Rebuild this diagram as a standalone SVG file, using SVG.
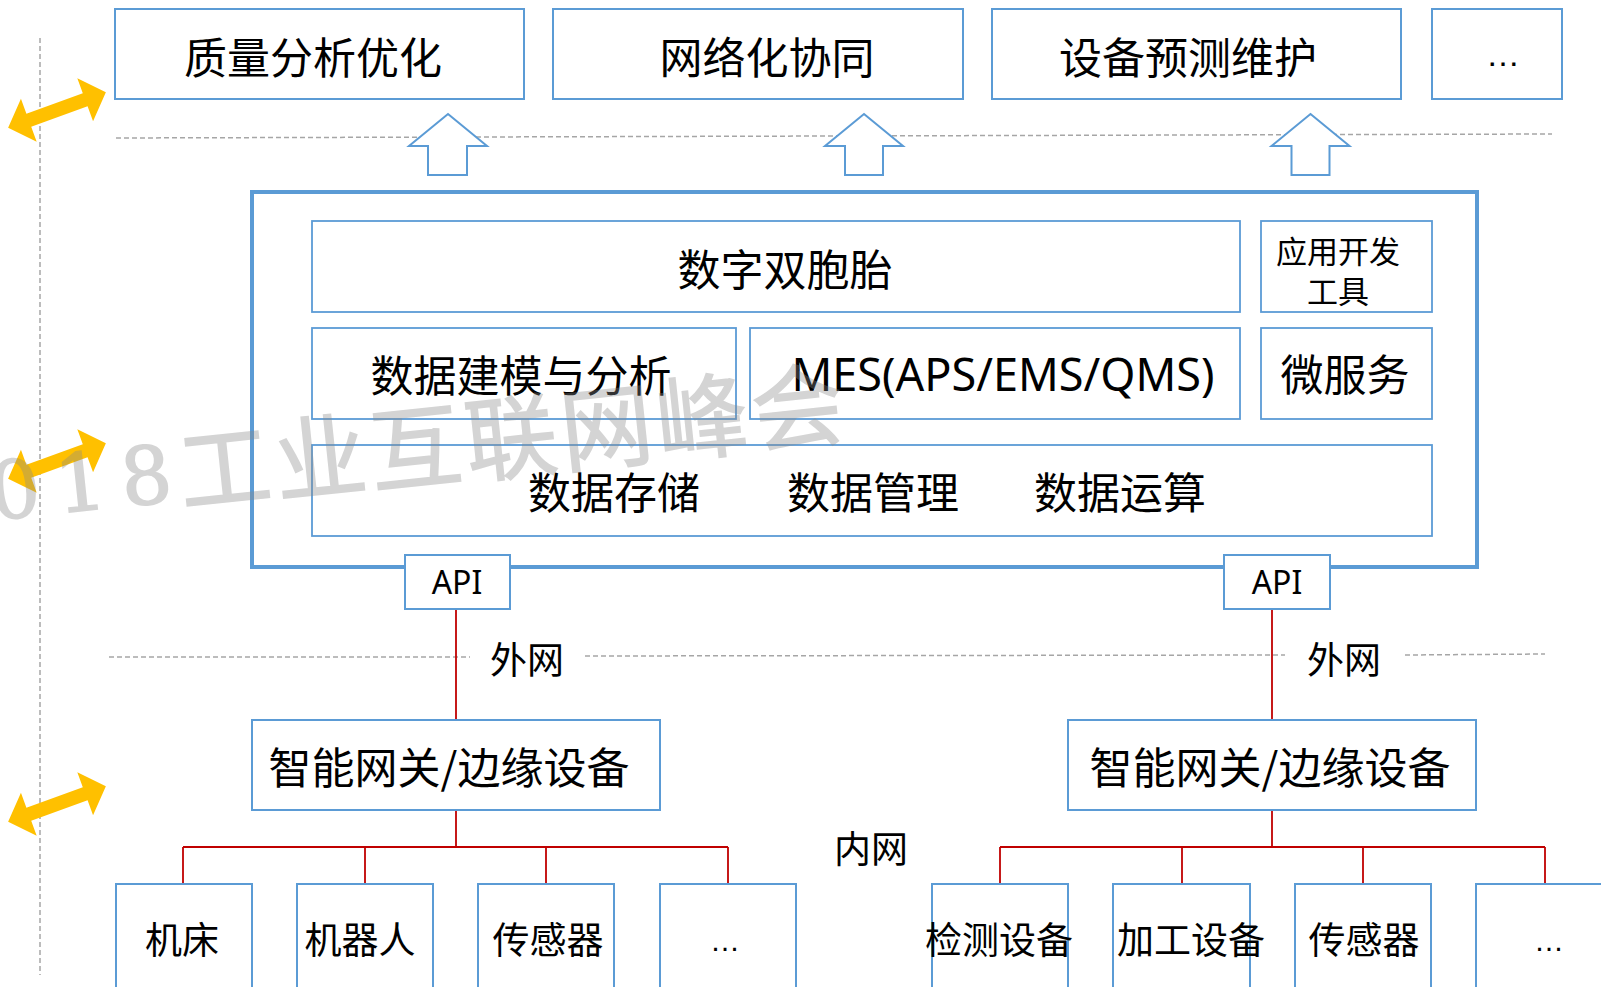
<svg xmlns="http://www.w3.org/2000/svg" width="1601" height="987" viewBox="0 0 1601 987">
<style>
.box{fill:#fff;stroke:#5B9BD5;stroke-width:2}
.ibox{fill:#fff;stroke:#5B9BD5;stroke-width:1.8}
.cont{fill:#fff;stroke:#5B9BD5;stroke-width:4}
.dash{fill:none;stroke:#A6A6A6;stroke-width:1.5;stroke-dasharray:5 3}
.red{fill:none;stroke:#C00000;stroke-width:1.8}
.t{font-family:"Noto Sans CJK SC","Noto Sans",sans-serif;fill:#000;text-anchor:middle;dominant-baseline:central}
.l{font-family:"Noto Sans","Noto Sans CJK SC",sans-serif;fill:#000;text-anchor:middle;dominant-baseline:central}
.e{font-family:"Liberation Sans",sans-serif;fill:#000;text-anchor:middle}
.yarrow{fill:#FFC000}
.barrow{fill:#fff;stroke:#5B9BD5;stroke-width:2}
.wm{fill:#8a8a8a;stroke:#8a8a8a;stroke-width:1.5;opacity:0.36;text-anchor:middle}
</style>
<defs>
<polygon id="dbl" points="52,0 30,-23 30,-7 -30,-7 -30,-23 -52,0 -30,23 -30,7 30,7 30,23"/>
</defs>
<rect width="1601" height="987" fill="#fff"/>

<g id="guides">
<line class="dash" x1="40" y1="38" x2="40" y2="975"/>
<line class="dash" x1="116" y1="138" x2="1552" y2="134"/>
<line class="dash" x1="109" y1="657" x2="470" y2="657"/>
<line class="dash" x1="585" y1="656" x2="1285" y2="655"/>
<line class="dash" x1="1405" y1="655" x2="1545" y2="654"/>
</g>

<g id="side-arrows">
<use href="#dbl" class="yarrow" transform="translate(57,110) rotate(-20)"/>
<use href="#dbl" class="yarrow" transform="translate(57,461) rotate(-20)"/>
<use href="#dbl" class="yarrow" transform="translate(57,804) rotate(-20)"/>
</g>

<g id="connectors">
<line class="red" x1="456" y1="551" x2="456" y2="720"/>
<line class="red" x1="456" y1="810" x2="456" y2="847"/>
<line class="red" x1="183" y1="847" x2="728" y2="847"/>
<line class="red" x1="183" y1="847" x2="183" y2="884"/>
<line class="red" x1="365" y1="847" x2="365" y2="884"/>
<line class="red" x1="546" y1="847" x2="546" y2="884"/>
<line class="red" x1="728" y1="847" x2="728" y2="884"/>
<line class="red" x1="1272" y1="551" x2="1272" y2="720"/>
<line class="red" x1="1272" y1="810" x2="1272" y2="847"/>
<line class="red" x1="1000" y1="847" x2="1545" y2="847"/>
<line class="red" x1="1000" y1="847" x2="1000" y2="884"/>
<line class="red" x1="1182" y1="847" x2="1182" y2="884"/>
<line class="red" x1="1363" y1="847" x2="1363" y2="884"/>
<line class="red" x1="1545" y1="847" x2="1545" y2="884"/>
<polygon class="barrow" points="448,114 487,146 467,146 467,175 428,175 428,146 409,146"/>
<polygon class="barrow" points="864,114 903,146 883,146 883,175 845,175 845,146 825,146"/>
<polygon class="barrow" points="1310.5,114 1349.5,146 1329.5,146 1329.5,175 1291.5,175 1291.5,146 1271.5,146"/>
</g>

<g id="app1"><rect class="box" x="115" y="9" width="409" height="90"/><text class="t" x="313" y="55" font-size="43">质量分析优化</text></g>
<g id="app2"><rect class="box" x="553" y="9" width="410" height="90"/><text class="t" x="767" y="55" font-size="43">网络化协同</text></g>
<g id="app3"><rect class="box" x="992" y="9" width="409" height="90"/><text class="t" x="1188" y="55" font-size="43">设备预测维护</text></g>
<g id="app4"><rect class="box" x="1432" y="9" width="130" height="90"/><text class="e" x="1503" y="66" font-size="34">…</text></g>

<g id="platform"><rect class="cont" x="252" y="192" width="1225" height="375"/></g>
<g id="twin"><rect class="ibox" x="312" y="221" width="928" height="91"/><text class="t" x="785" y="267" font-size="43">数字双胞胎</text></g>
<g id="devtools"><rect class="ibox" x="1261" y="221" width="171" height="91"/><text class="t" x="1338" y="249" font-size="31">应用开发</text><text class="t" x="1338" y="289" font-size="31">工具</text></g>
<g id="modeling"><rect class="ibox" x="312" y="328" width="424" height="91"/><text class="t" x="521" y="373" font-size="43">数据建模与分析</text></g>
<g id="mes"><rect class="ibox" x="750" y="328" width="490" height="91"/><text class="l" x="1003" y="373" font-size="45">MES(APS/EMS/QMS)</text></g>
<g id="micro"><rect class="ibox" x="1261" y="328" width="171" height="91"/><text class="t" x="1345" y="372" font-size="43">微服务</text></g>
<g id="data"><rect class="ibox" x="312" y="445" width="1120" height="91"/><text class="t" x="614" y="490" font-size="43">数据存储</text><text class="t" x="873" y="490" font-size="43">数据管理</text><text class="t" x="1120" y="490" font-size="43">数据运算</text></g>

<g id="api1"><rect class="box" x="405" y="555" width="105" height="54"/><text class="l" x="457" y="581" font-size="32">API</text></g>
<g id="api2"><rect class="box" x="1224" y="555" width="106" height="54"/><text class="l" x="1277" y="581" font-size="32">API</text></g>

<g id="label-ext1"><text class="t" x="527" y="658" font-size="37">外网</text></g>
<g id="label-ext2"><text class="t" x="1344" y="658" font-size="37">外网</text></g>
<g id="label-int"><text class="t" x="871" y="847" font-size="37">内网</text></g>

<g id="gw1"><rect class="box" x="252" y="720" width="408" height="90"/><text class="t" x="449" y="765" font-size="43">智能网关/边缘设备</text></g>
<g id="gw2"><rect class="box" x="1068" y="720" width="408" height="90"/><text class="t" x="1270" y="765" font-size="43">智能网关/边缘设备</text></g>

<g id="dev1"><rect class="box" x="116" y="884" width="136" height="115"/><text class="t" x="182" y="938" font-size="37">机床</text></g>
<g id="dev2"><rect class="box" x="297" y="884" width="136" height="115"/><text class="t" x="360" y="938" font-size="37">机器人</text></g>
<g id="dev3"><rect class="box" x="478" y="884" width="136" height="115"/><text class="t" x="548" y="938" font-size="37">传感器</text></g>
<g id="dev4"><rect class="box" x="660" y="884" width="136" height="115"/><text class="e" x="725" y="951" font-size="30">…</text></g>
<g id="dev5"><rect class="box" x="932" y="884" width="136" height="115"/><text class="t" x="999" y="938" font-size="37">检测设备</text></g>
<g id="dev6"><rect class="box" x="1113" y="884" width="137" height="115"/><text class="t" x="1191" y="938" font-size="37">加工设备</text></g>
<g id="dev7"><rect class="box" x="1295" y="884" width="136" height="115"/><text class="t" x="1364" y="938" font-size="37">传感器</text></g>
<g id="dev8"><rect class="box" x="1476" y="884" width="140" height="115"/><text class="e" x="1549" y="951" font-size="30">…</text></g>

<g id="watermark" transform="translate(147,504) rotate(-6)">
<text class="wm" font-family="DejaVu Serif,serif" font-size="80" x="-196 -130 -64 2">2018</text>
<text class="wm" font-family="Noto Sans CJK SC,sans-serif" font-size="92" x="81 177 273 369 465 561 657" y="6">工业互联网峰会</text>
</g>
</svg>
